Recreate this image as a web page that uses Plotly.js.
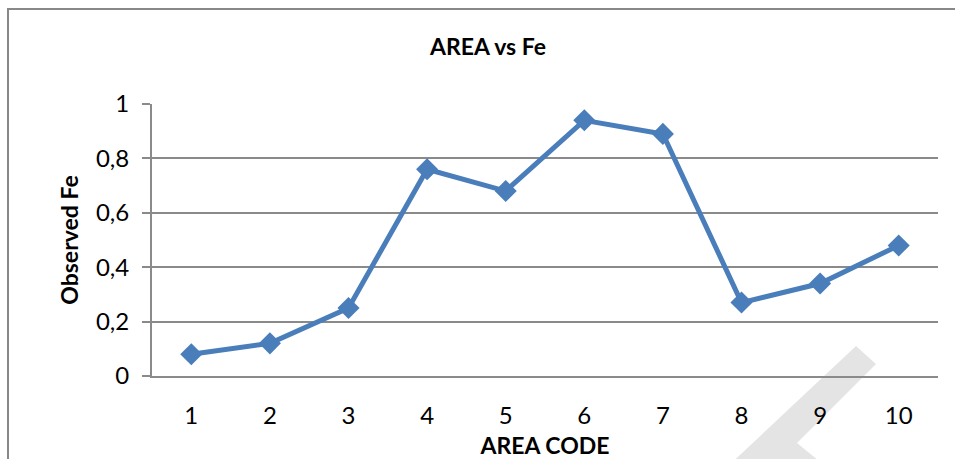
<!DOCTYPE html>
<html>
<head>
<meta charset="utf-8">
<script src="https://cdn.plot.ly/plotly-3.0.1.min.js"></script>
<style>
  html, body { margin: 0; padding: 0; background: #fff; }
  #wrap { position: relative; width: 955px; height: 459px; overflow: hidden; }
  #chart { position: absolute; left: 0; top: 0; width: 955px; height: 459px; }
  #frame { position: absolute; left: 7px; top: 8px; width: 1200px; height: 1200px;
           border-left: 2px solid #888; border-top: 2px solid #888; pointer-events: none; }
</style>
</head>
<body>
<div id="wrap">
  <div id="chart"></div>
  <div id="frame"></div>
</div>
<script>
const areaCodes = ['1', '2', '3', '4', '5', '6', '7', '8', '9', '10'];
const observedFe = [0.08, 0.12, 0.25, 0.76, 0.68, 0.94, 0.89, 0.27, 0.34, 0.48];
const yTicks = [0, 0.2, 0.4, 0.6, 0.8, 1];

const W = 955, H = 459;
const L = 152, R = 938, T = 104, B = 376;
function px(x) { return (x - L) / (R - L); }
function py(y) { return (B - y) / (B - T); }
function poly(pts) {
  return 'M' + pts.map(p => px(p[0]).toFixed(4) + ',' + py(p[1]).toFixed(4)).join(' L') + ' Z';
}

const trace = {
  type: 'scatter',
  mode: 'lines+markers',
  x: areaCodes,
  y: observedFe,
  line: { color: '#4a7ebb', width: 5 },
  marker: { symbol: 'diamond', size: 17, color: '#4a7ebb' },
  hoverinfo: 'x+y'
};

const fontFam = 'Lato, "Open Sans", sans-serif';

const layout = {
  width: W, height: H,
  margin: { l: L, r: W - R, t: T, b: H - B, pad: 0 },
  paper_bgcolor: 'rgba(0,0,0,0)',
  plot_bgcolor: 'rgba(0,0,0,0)',
  separators: ',.',
  showlegend: false,
  font: { family: fontFam, color: '#000', size: 24 },
  title: {
    text: '<b>AREA vs Fe</b>',
    font: { family: fontFam, size: 23, color: '#000' },
    x: 488 / W, xref: 'container', xanchor: 'center',
    y: 1 - 47 / H, yref: 'container', yanchor: 'middle'
  },
  xaxis: {
    type: 'category',
    range: [-0.5, areaCodes.length - 0.5],
    showgrid: false,
    zeroline: false,
    showline: true, linecolor: '#8a8a8a', linewidth: 2,
    ticks: '', ticklabelstandoff: 17,
    tickfont: { family: fontFam, size: 24, color: '#000' },
    title: { text: '<b>AREA CODE</b>', font: { family: fontFam, size: 23, color: '#000' }, standoff: 11 }
  },
  yaxis: {
    range: [0, 1],
    tickvals: yTicks,
    showgrid: true, gridcolor: '#8a8a8a', gridwidth: 2,
    zeroline: false,
    showline: true, linecolor: '#8a8a8a', linewidth: 2,
    ticks: 'outside', ticklen: 8, tickwidth: 2, tickcolor: '#8a8a8a',
    ticklabelstandoff: 8,
    tickfont: { family: fontFam, size: 24, color: '#000' },
    title: { text: '<b>Observed Fe</b>', font: { family: fontFam, size: 23, color: '#000' }, standoff: 11 }
  },
  shapes: [
    {
      type: 'path', xref: 'paper', yref: 'paper', layer: 'below',
      path: poly([[856, 346], [876, 364], [770, 470], [724, 470]]),
      fillcolor: '#e4e4e4', line: { width: 0 }
    },
    {
      type: 'path', xref: 'paper', yref: 'paper', layer: 'below',
      path: poly([[797, 443], [830, 470], [790, 470], [777, 458]]),
      fillcolor: '#e4e4e4', line: { width: 0 }
    }
  ]
};

Plotly.newPlot('chart', [trace], layout, { displayModeBar: false, staticPlot: true });
</script>
</body>
</html>
